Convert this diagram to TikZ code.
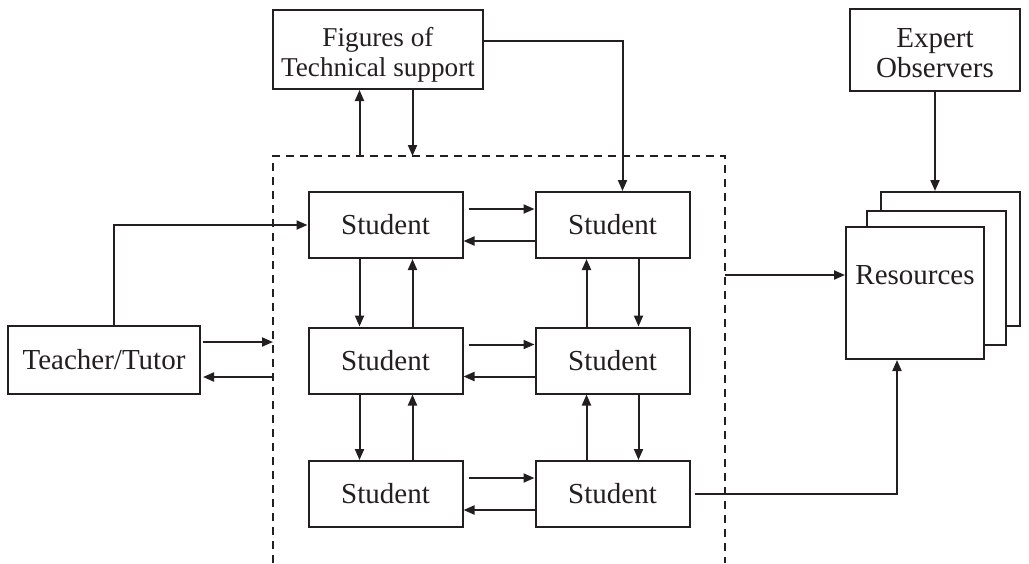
\documentclass[tikz,border=0pt]{standalone}
\usepackage{fontspec}
\setmainfont{Liberation Serif}
\usetikzlibrary{arrows.meta,calc}
\definecolor{ink}{RGB}{35,31,32}
\begin{document}
\begin{tikzpicture}[x=0.5pt,y=-0.5pt,
  every node/.style={font=\fontsize{14.5}{15}\selectfont, text=ink},
  box/.style={draw=ink, line width=1pt, fill=white, inner sep=0pt, align=center},
  stud/.style={box, minimum width=77pt, minimum height=33pt},
  conn/.style={draw=ink, line width=1pt},
  arr/.style={conn, -{Triangle[length=5.5pt,width=4.5pt]}},
  dashline/.style={draw=ink, line width=1pt, dash pattern=on 4pt off 3pt}]
\useasboundingbox (0,0) rectangle (1029,563);

% dashed frame
\coordinate (dtl) at (273,156);
\coordinate (dtr) at (725,156);
\coordinate (dbl) at (273,563);
\coordinate (dbr) at (725,563);
\draw[dashline] (dbl) -- (dtl) -- (dtr) -- (dbr);

% nodes
\node[box, minimum width=105pt, minimum height=39.5pt,
  label={[yshift=-2.5pt, align=center, font=\fontsize{13.6}{15}\selectfont, text=ink]center:Figures of\\Technical support}] (fig) at (378,49.5) {};
\node[box, minimum width=85pt, minimum height=41pt,
  label={[yshift=-1.5pt, align=center, font=\fontsize{14.5}{15}\selectfont, text=ink]center:Expert\\Observers}] (exp) at (935,50) {};
\node[box, minimum width=96pt, minimum height=34pt] (tut) at (104,360) {Teacher/Tutor};

\node[stud] (s11) at (385.5,225) {Student};
\node[stud] (s12) at (612.5,225) {Student};
\node[stud] (s21) at (385.5,360.5) {Student};
\node[stud] (s22) at (612.5,360.5) {Student};
\node[stud] (s31) at (385.5,494) {Student};
\node[stud] (s32) at (612.5,494) {Student};

\node[box, minimum width=69.5pt, minimum height=67pt] (back) at (950.5,259) {};
\node[box, minimum width=69.5pt, minimum height=67pt] (mid) at (936.5,278) {};
\node[box, minimum width=69pt, minimum height=66pt,
  label={[yshift=9pt, font=\fontsize{14.5}{15}\selectfont, text=ink]center:Resources}] (res) at (915,293) {};

% horizontal student links
\foreach \a/\b in {s11/s12, s21/s22, s31/s32}{
  \draw[arr, shorten <=2.5pt] ($(\a.east)+(0,8pt)$) -- ($(\b.west)+(0,8pt)$);
  \draw[arr] ($(\b.west)+(0,-8pt)$) -- ($(\a.east)+(0,-8pt)$);
}
% vertical student links, left column
\foreach \a/\b in {s11/s21, s21/s31}{
  \draw[arr] ($(\a.south)+(-13pt,0)$) -- ($(\b.north)+(-13pt,0)$);
  \draw[arr] ($(\b.north)+(13.5pt,0)$) -- ($(\a.south)+(13.5pt,0)$);
}
% vertical student links, right column
\foreach \a/\b in {s12/s22, s22/s32}{
  \draw[arr] ($(\b.north)+(-13pt,0)$) -- ($(\a.south)+(-13pt,0)$);
  \draw[arr] ($(\a.south)+(13pt,0)$) -- ($(\b.north)+(13pt,0)$);
}

% technical support <-> group
\coordinate (fu) at ($(s11.north)+(-13pt,0)$);
\coordinate (fd) at ($(s11.north)+(13.5pt,0)$);
\draw[arr] (fu |- dtl) -- (fu |- fig.south);
\draw[arr] (fd |- fig.south) -- (fd |- dtl);

% technical support -> top right student
\draw[arr] ($(fig.east)+(0,4.25pt)$) -| ($(s12.north)+(5pt,0)$);

% teacher links
\draw[arr] ($(tut.north)+(5pt,0)$) |- (s11.west);
\coordinate (t1) at ($(tut.east)+(0,9pt)$);
\coordinate (t2) at ($(tut.east)+(0,-8.5pt)$);
\draw[arr, shorten <=1pt] (t1) -- (t1 -| dtl);
\draw[arr, shorten >=1pt] (t2 -| dtl) -- (t2);

% group -> resources
\coordinate (r1) at ($(res.west)+(0,9pt)$);
\draw[arr] (r1 -| dtr) -- (r1);
\draw[arr, shorten <=2pt] (s32.east) -| ($(res.south)+(-9pt,0)$);

% experts -> resources
\draw[arr] (exp.south) -- (exp.south |- back.north);
\end{tikzpicture}
\end{document}
